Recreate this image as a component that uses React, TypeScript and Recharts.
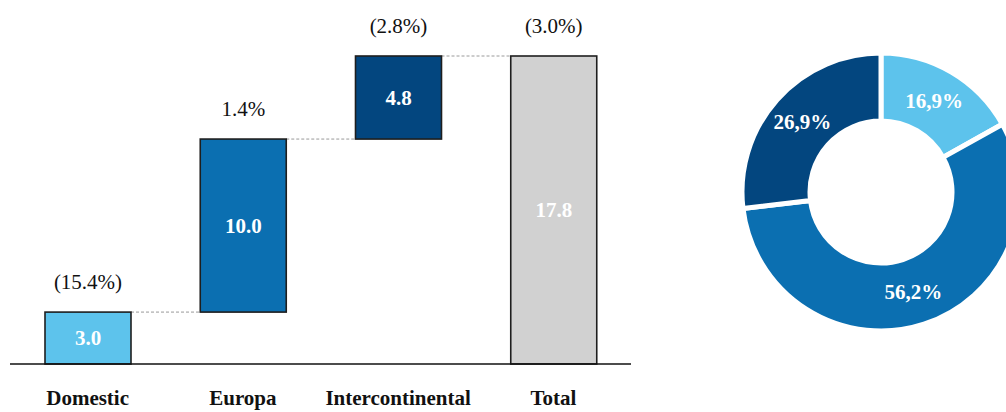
import React from 'react';
import { ComposedChart, Bar, XAxis, YAxis, LabelList, PieChart, Pie, Cell } from 'recharts';

const categories = ['Domestic', 'Europa', 'Intercontinental', 'Total'];
const values = [3.0, 10.0, 4.8, 17.8];
const growthLabels = ['(15.4%)', '1.4%', '(2.8%)', '(3.0%)'];
const isTotal = [false, false, false, true];
const barColors = ['#5DC3EC', '#0B6FB1', '#03467F', '#D1D1D1'];

const shareNames = ['Domestic', 'Europa', 'Intercontinental'];
const shareValues = [16.9, 56.2, 26.9];
const shareLabels = ['16,9%', '56,2%', '26,9%'];
const shareColors = ['#5DC3EC', '#0B6FB1', '#03467F'];

const FONT = "'Liberation Serif', 'Times New Roman', Times, serif";
const PLOT_LEFT = 10;
const PLOT_RIGHT = 631;
const BAR_SIZE = 86;
const BAND = (PLOT_RIGHT - PLOT_LEFT) / categories.length;
const GAP = BAND - BAR_SIZE;

let running = 0;
const waterfallData = categories.map((name, i) => {
  const base = isTotal[i] ? 0 : running;
  if (!isTotal[i]) running += values[i];
  return {
    name,
    base,
    value: values[i],
    label: values[i].toFixed(1),
    growth: growthLabels[i],
    color: barColors[i],
    last: i === categories.length - 1,
  };
});

const pieData = shareNames.map((name, i) => ({
  name,
  value: shareValues[i],
  label: shareLabels[i],
  color: shareColors[i],
}));

const BarShape = (props: any) => {
  const { x, y, width, height, payload } = props;
  return (
    <g>
      {!payload.last && (
        <line
          x1={x + width}
          x2={x + width + GAP}
          y1={y}
          y2={y}
          stroke="#9a9a9a"
          strokeWidth={1}
          strokeDasharray="3 2"
        />
      )}
      <rect x={x} y={y} width={width} height={height} fill={payload.color} stroke="#1e1e1e" strokeWidth={1.6} />
    </g>
  );
};

const ValueLabel = (props: any) => {
  const { x, y, width, height, value } = props;
  return (
    <text
      x={x + width / 2}
      y={y + height / 2}
      textAnchor="middle"
      dominantBaseline="central"
      fill="#ffffff"
      fontWeight="bold"
      fontSize={21}
      style={{ fontFamily: FONT }}
    >
      {value}
    </text>
  );
};

const GrowthLabel = (props: any) => {
  const { x, y, width, value } = props;
  return (
    <text
      x={x + width / 2}
      y={y - 30}
      textAnchor="middle"
      dominantBaseline="central"
      fill="#111"
      fontSize={21}
      style={{ fontFamily: FONT }}
    >
      {value}
    </text>
  );
};

const CategoryTick = (props: any) => {
  const { x, y, payload } = props;
  return (
    <text
      x={x}
      y={y + 26}
      textAnchor="middle"
      dominantBaseline="central"
      fill="#111"
      fontWeight="bold"
      fontSize={21}
      style={{ fontFamily: FONT }}
    >
      {payload.value}
    </text>
  );
};

const RADIAN = Math.PI / 180;
const PieLabel = (props: any) => {
  const { cx, cy, midAngle, index } = props;
  const r = 105;
  const lx = cx + r * Math.cos(-midAngle * RADIAN);
  const ly = cy + r * Math.sin(-midAngle * RADIAN);
  return (
    <text
      x={lx}
      y={ly}
      textAnchor="middle"
      dominantBaseline="central"
      fill="#ffffff"
      fontWeight="bold"
      fontSize={21}
      style={{ fontFamily: FONT }}
    >
      {pieData[index].label}
    </text>
  );
};

export default function App() {
  return (
    <div style={{ position: 'absolute', left: 0, top: 0, width: 1006, height: 412, background: '#fff', overflow: 'hidden' }}>
      <div style={{ position: 'absolute', left: 0, top: 0 }}>
        <ComposedChart
          width={640}
          height={412}
          data={waterfallData}
          margin={{ top: 56, right: 640 - PLOT_RIGHT, left: PLOT_LEFT, bottom: 0 }}
          barCategoryGap={GAP / 2}
        >
          <YAxis hide domain={[0, 17.8]} />
          <XAxis
            dataKey="name"
            height={48}
            axisLine={{ stroke: '#111', strokeWidth: 1.5 }}
            tickLine={false}
            tick={<CategoryTick />}
            interval={0}
          />
          <Bar dataKey="base" stackId="a" fill="transparent" isAnimationActive={false} barSize={BAR_SIZE} />
          <Bar dataKey="value" stackId="a" shape={<BarShape />} isAnimationActive={false} barSize={BAR_SIZE}>
            <LabelList dataKey="label" content={<ValueLabel />} />
            <LabelList dataKey="growth" content={<GrowthLabel />} />
          </Bar>
        </ComposedChart>
      </div>
      <div style={{ position: 'absolute', left: 640, top: 0 }}>
        <PieChart width={366} height={412} margin={{ top: 0, right: 0, left: 0, bottom: 0 }}>
          <Pie
            data={pieData}
            dataKey="value"
            cx={241}
            cy={192}
            innerRadius={71}
            outerRadius={139}
            startAngle={90}
            endAngle={-270}
            stroke="#ffffff"
            strokeWidth={5}
            label={PieLabel}
            labelLine={false}
            isAnimationActive={false}
          >
            {pieData.map((d, i) => (
              <Cell key={i} fill={d.color} />
            ))}
          </Pie>
        </PieChart>
      </div>
    </div>
  );
}
